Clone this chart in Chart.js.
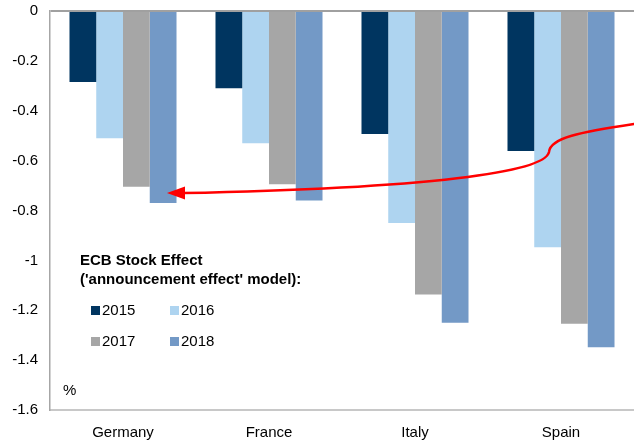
<!DOCTYPE html>
<html>
<head>
<meta charset="utf-8">
<script src="https://cdn.jsdelivr.net/npm/chart.js@4.4.1/dist/chart.umd.min.js"></script>
<style>
  html, body { margin: 0; padding: 0; background: #fff; overflow: hidden; }
  canvas { display: block; }
</style>
</head>
<body>
<canvas id="grafico" width="634" height="442"></canvas>
<script>
// Efecto stock del BCE por país (%), modelo de "announcement effect"
const paises = ["Germany", "France", "Italy", "Spain"];
const anios = ["2015", "2016", "2017", "2018"];
const efecto2015 = [-0.285, -0.31, -0.493, -0.561];
const efecto2016 = [-0.51, -0.53, -0.85, -0.947];
const efecto2017 = [-0.705, -0.695, -1.137, -1.254];
const efecto2018 = [-0.77, -0.76, -1.25, -1.348];
const coloresAnio = ["#003560", "#aed4f0", "#a6a6a6", "#7399c6"];
const ticksY = [0, -0.2, -0.4, -0.6, -0.8, -1, -1.2, -1.4, -1.6];

// Flecha roja en unidades de datos (índice de categoría, valor)
const flechaX = [3.5, 3.13, 2.925, 2.918, 2.89, 2.10, 0.411];
const flechaY = [-0.453, -0.485, -0.509, -0.565, -0.646, -0.710, -0.730];
const puntaFlecha = [0.301, -0.730];

const tituloLeyenda = ["ECB Stock Effect", "('announcement effect' model):"];
const FUENTE = "'Liberation Sans', Arial, sans-serif";

const series = [efecto2015, efecto2016, efecto2017, efecto2018];

// Dibuja la flecha, la leyenda y la unidad sobre el área del gráfico
const extras = {
  id: "extras",
  afterDatasetsDraw(chart) {
    const { ctx, chartArea, scales } = chart;
    const px = (i) => scales.x.getPixelForValue(flechaX[i]);
    const py = (i) => scales.y.getPixelForValue(flechaY[i]);

    ctx.save();
    ctx.strokeStyle = "#ff0000";
    ctx.fillStyle = "#ff0000";
    ctx.lineWidth = 2.5;
    ctx.lineCap = "round";
    ctx.beginPath();
    ctx.moveTo(px(0), py(0));
    ctx.bezierCurveTo(px(1), py(1), px(2), py(2), px(3), py(3));
    ctx.bezierCurveTo(px(4), py(4), px(5), py(5), px(6), py(6));
    ctx.stroke();

    const tx = scales.x.getPixelForValue(puntaFlecha[0]);
    const ty = scales.y.getPixelForValue(puntaFlecha[1]);
    ctx.beginPath();
    ctx.moveTo(tx, ty);
    ctx.lineTo(px(6) + 2, ty - 6.5);
    ctx.lineTo(px(6) + 2, ty + 6.5);
    ctx.closePath();
    ctx.fill();
    ctx.restore();

    // Leyenda
    const x0 = chartArea.left;
    const y0 = chartArea.top;
    ctx.save();
    ctx.fillStyle = "#000";
    ctx.textBaseline = "middle";
    ctx.font = "bold 15px " + FUENTE;
    ctx.fillText(tituloLeyenda[0], x0 + 30, y0 + 250);
    ctx.fillText(tituloLeyenda[1], x0 + 30, y0 + 269);

    ctx.font = "15px " + FUENTE;
    chart.data.datasets.forEach((ds, i) => {
      const col = i % 2;
      const fila = Math.floor(i / 2);
      const lx = x0 + 41 + col * 79;
      const ly = y0 + 299 + fila * 31;
      ctx.fillStyle = ds.backgroundColor;
      ctx.fillRect(lx, ly - 4, 9, 9);
      ctx.fillStyle = "#000";
      ctx.fillText(ds.label, lx + 11, ly + 1);
    });

    ctx.fillText("%", x0 + 13, y0 + 380);
    ctx.restore();
  }
};

new Chart(document.getElementById("grafico"), {
  type: "bar",
  data: {
    labels: paises,
    datasets: anios.map((a, i) => ({
      label: a,
      data: series[i],
      backgroundColor: coloresAnio[i],
      borderWidth: 0,
      categoryPercentage: 0.733,
      barPercentage: 1.0
    }))
  },
  options: {
    responsive: false,
    animation: false,
    layout: { padding: { top: 11, right: 0, left: 0, bottom: 0 } },
    plugins: {
      legend: { display: false },
      tooltip: { enabled: false }
    },
    scales: {
      x: {
        grid: { display: false, drawTicks: false },
        border: { display: true, color: "#c8c8c8", width: 2 },
        ticks: { color: "#000", font: { family: FUENTE, size: 15 }, padding: 14 },
        afterFit: (s) => { s.height = 32; }
      },
      y: {
        min: -1.6,
        max: 0,
        afterBuildTicks: (s) => { s.ticks = ticksY.map((v) => ({ value: v })); },
        grid: {
          drawTicks: false,
          color: (c) => (c.tick && c.tick.value === 0 ? "#a0a0a0" : "transparent"),
          lineWidth: 2
        },
        border: { display: true, color: "#a6a6a6", width: 1.5 },
        ticks: {
          color: "#000",
          font: { family: FUENTE, size: 15 },
          padding: 12,
          callback: (v) => String(v)
        },
        afterFit: (s) => {
          s.width = 50;
          s.paddingTop = 0;
          s.paddingBottom = 0;
        }
      }
    }
  },
  plugins: [extras]
});
</script>
</body>
</html>
